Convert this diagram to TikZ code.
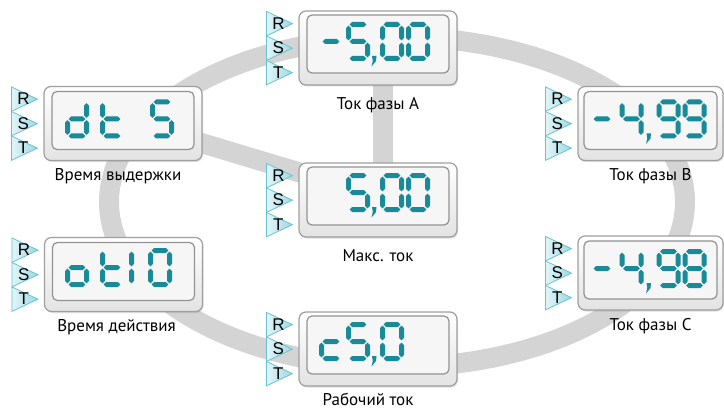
\documentclass[tikz,border=0pt]{standalone}
\usepackage{fontspec}
\setmainfont{PT Sans}
\newfontfamily\rstfont{Liberation Sans}
\usetikzlibrary{positioning,shadows,backgrounds}

\definecolor{bandgray}{RGB}{212,212,212}
\definecolor{segteal}{RGB}{24,138,152}
\definecolor{rstedge}{RGB}{104,195,208}
\definecolor{rstlight}{RGB}{226,245,248}
\definecolor{rstdark}{RGB}{158,216,226}

\tikzset{
  ringband/.style={draw=bandgray, line width=20pt},
  frame/.style={draw=gray!75, line width=1.2pt, rounded corners=7pt,
    top color=white, bottom color=gray!22,
    minimum width=158pt, minimum height=74pt,
    drop shadow={opacity=0.25, shadow xshift=1pt, shadow yshift=-1.5pt}},
  lcd/.style={draw=gray!85, line width=1.2pt, rounded corners=5pt,
    fill=gray!7, minimum width=142pt, minimum height=58pt},
  lcdseg/.style={fill=segteal},
  rsttri/.style={draw=rstedge, line width=0.8pt, left color=rstlight, right color=rstdark},
  rstletter/.style={font=\rstfont\fontsize{17}{17}\selectfont, inner sep=0pt},
  caption/.style={font=\fontsize{17}{20}\selectfont}
}

% seven segment pieces, cell 24 x 39
\newcommand{\lcdH}[3]{\fill[lcdseg] (#1,#3) -- (#1+2.5,#3-2.5) -- (#2-2.5,#3-2.5) -- (#2,#3) -- (#2-2.5,#3+2.5) -- (#1+2.5,#3+2.5) -- cycle;}
\newcommand{\lcdV}[3]{\fill[lcdseg] (#1,#2) -- (#1+2.5,#2+2.5) -- (#1+2.5,#3-2.5) -- (#1,#3) -- (#1-2.5,#3-2.5) -- (#1-2.5,#2+2.5) -- cycle;}
\newcommand{\sega}{\lcdH{3.7}{20.3}{2.5}}
\newcommand{\segg}{\lcdH{3.7}{20.3}{19.5}}
\newcommand{\segd}{\lcdH{3.7}{20.3}{36.5}}
\newcommand{\segf}{\lcdV{2.5}{3.7}{18.3}}
\newcommand{\sege}{\lcdV{2.5}{20.7}{35.3}}
\newcommand{\segb}{\lcdV{21.5}{3.7}{18.3}}
\newcommand{\segc}{\lcdV{21.5}{20.7}{35.3}}
\newcommand{\lcdchar}[2]{\begin{scope}[shift={#1}]\foreach \s in {#2}{\csname seg\s\endcsname}\end{scope}}
\newcommand{\lcdcomma}[1]{\fill[lcdseg] #1 -- ++(4.5,0) -- ++(-0.5,5) -- ++(-4.5,5.5) -- ++(1.3,-5.5) -- cycle;}
\newcommand{\rst}[1]{%
  \foreach \lbl [count=\i from 0] in {R,S,T} {
    \draw[rsttri] ([xshift=-32pt,yshift=-1pt-\i*24.5pt]#1.north west) -- ++(0,24.5) -- ++(26,-12.25) -- cycle;
    \node[rstletter] at ([xshift=-20pt,yshift=-13pt-\i*24.5pt]#1.north west) {\lbl};
  }}

\begin{document}
\begin{tikzpicture}[x=1pt,y=-1pt]
  \useasboundingbox (0,0) rectangle (724,412);

  \draw[ringband] (397,202) ellipse [x radius=288pt, y radius=165pt];

  % phase A
  \node[frame] (dA) at (378,48) {};
  \node[lcd] at ([yshift=4pt]dA.center) {};
  \begin{scope}[shift={(dA.center)}]
    \lcdchar{(-59,-26)}{g}
    \lcdchar{(-32,-26)}{a,f,g,c,d}
    \lcdcomma{(-6,8)}
    \lcdchar{(2,-26)}{a,b,c,d,e,f}
    \lcdchar{(28,-26)}{a,b,c,d,e,f}
  \end{scope}
  \node[caption, below=8pt of dA] {Ток фазы А};
  \rst{dA}

  % max current
  \node[frame] (dM) at (378,200) {};
  \node[lcd] at ([yshift=4pt]dM.center) {};
  \begin{scope}[shift={(dM.center)}]
    \lcdchar{(-32,-27)}{a,f,g,c,d}
    \lcdcomma{(-6,7)}
    \lcdchar{(2,-27)}{a,b,c,d,e,f}
    \lcdchar{(28,-27)}{a,b,c,d,e,f}
  \end{scope}
  \node[caption, below=8pt of dM] {Макс. ток};
  \rst{dM}

  % working current
  \node[frame] (dW) at (378,349) {};
  \node[lcd] at ([yshift=4pt]dW.center) {};
  \begin{scope}[shift={(dW.center)}]
    \lcdchar{(-59,-27)}{d,e,g}
    \lcdchar{(-32,-27)}{a,f,g,c,d}
    \lcdcomma{(-6,7)}
    \lcdchar{(2,-27)}{a,b,c,d,e,f}
  \end{scope}
  \node[caption, below=3pt of dW, xshift=-10pt] {Рабочий ток};
  \rst{dW}

  % delay time
  \node[frame] (dL) at (123,123.5) {};
  \node[lcd] at ([yshift=3pt]dL.center) {};
  \begin{scope}[shift={(dL.center)}]
    \lcdchar{(-58,-24)}{b,c,d,e,g}
    \lcdchar{(-23,-24)}{d,e,f,g}
    \lcdchar{(27,-24)}{a,f,g,c,d}
  \end{scope}
  \node[caption, below=4pt of dL, xshift=-5pt] {Время выдержки};
  \rst{dL}

  % action time
  \node[frame] (dT) at (123.5,274.5) {};
  \node[lcd] at ([yshift=3pt]dT.center) {};
  \begin{scope}[shift={(dT.center)}]
    \lcdchar{(-58.5,-26.5)}{c,d,e,g}
    \lcdchar{(-23.5,-26.5)}{d,e,f,g}
    \lcdchar{(5.5,-26.5)}{e,f}
    \lcdchar{(24.5,-26.5)}{a,b,c,d,e,f}
  \end{scope}
  \node[caption, below=4pt of dT, xshift=-7pt] {Время действия};
  \rst{dT}

  % phase B
  \node[frame, minimum width=145pt] (dB) at (650.5,123.5) {};
  \node[lcd, minimum width=133pt] at ([yshift=3pt]dB.center) {};
  \begin{scope}[shift={(dB.center)}]
    \lcdchar{(-60.5,-24)}{g}
    \lcdchar{(-31,-24)}{f,g,b,c}
    \lcdcomma{(-4,10)}
    \lcdchar{(6,-24)}{a,b,c,d,f,g}
    \lcdchar{(32,-24)}{a,b,c,d,f,g}
  \end{scope}
  \node[caption, below=4pt of dB] {Ток фазы В};
  \rst{dB}

  % phase C
  \node[frame, minimum width=145pt] (dC) at (650.5,273) {};
  \node[lcd, minimum width=133pt] at ([yshift=3pt]dC.center) {};
  \begin{scope}[shift={(dC.center)}]
    \lcdchar{(-60.5,-24)}{g}
    \lcdchar{(-31,-24)}{f,g,b,c}
    \lcdcomma{(-4,10)}
    \lcdchar{(6,-24)}{a,b,c,d,f,g}
    \lcdchar{(32,-24)}{a,b,c,d,e,f,g}
  \end{scope}
  \node[caption, below=4pt of dC] {Ток фазы С};
  \rst{dC}

  \begin{pgfonlayer}{background}
    \draw[ringband] ([xshift=5pt]dA.center) -- ([xshift=5pt]dM.center);
    \draw[ringband] ([yshift=4pt]dL.center) -- ([yshift=4pt]dM.center);
  \end{pgfonlayer}
\end{tikzpicture}
\end{document}
